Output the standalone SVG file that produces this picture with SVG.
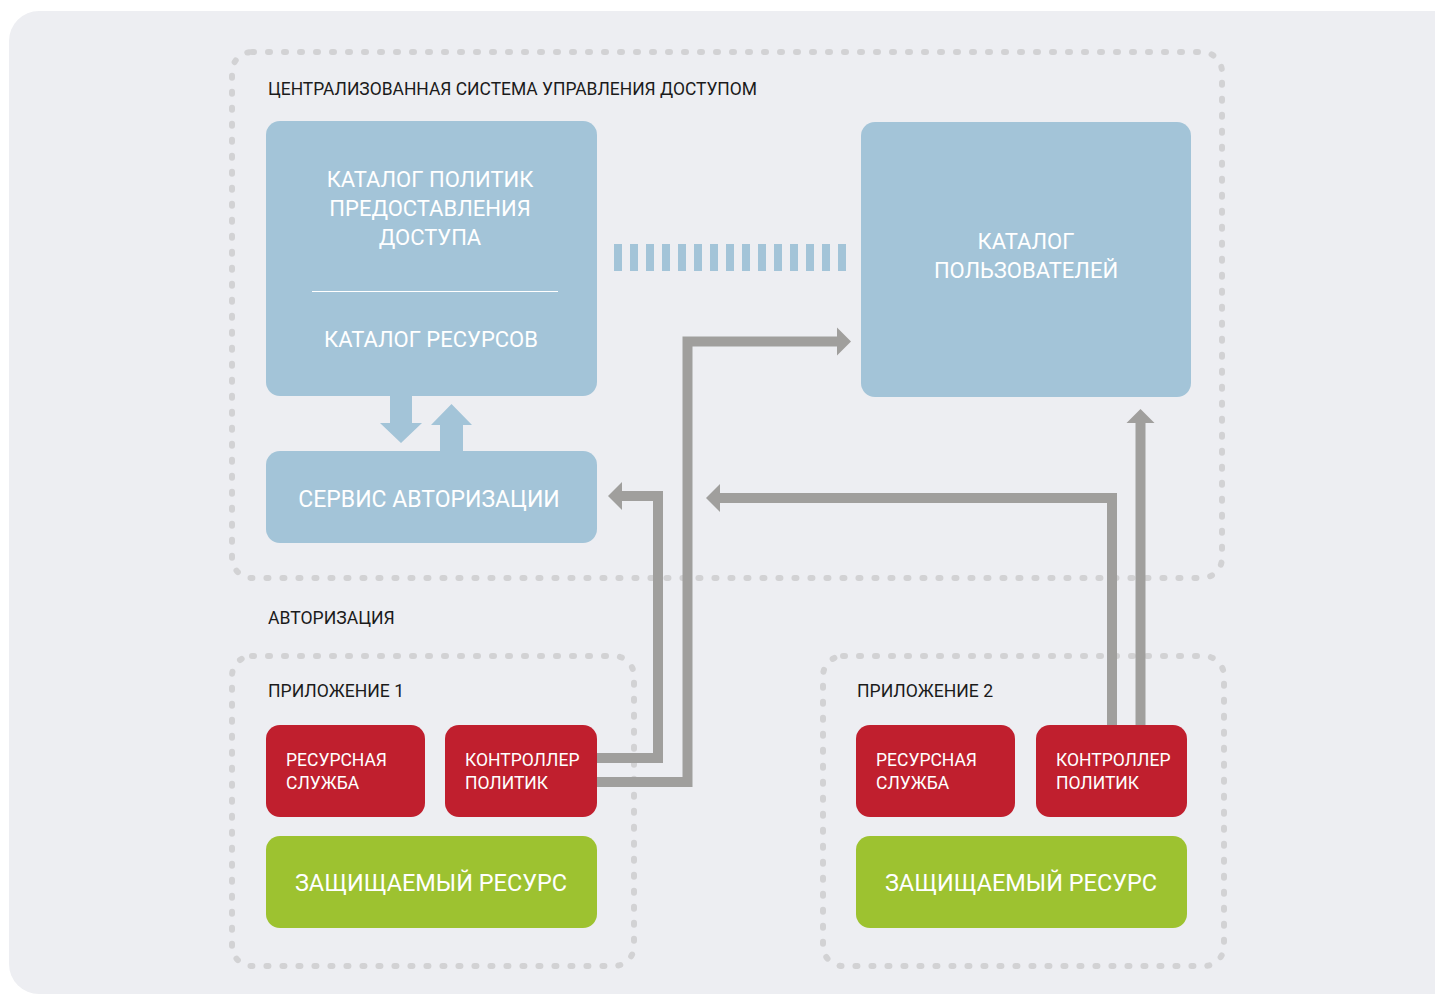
<svg xmlns="http://www.w3.org/2000/svg" width="1435" height="995" viewBox="0 0 1435 995">
<defs>
<style>
.cont{fill:none;stroke:#d2d2d4;stroke-width:6;stroke-linecap:round;stroke-dasharray:2 14}
.blue{fill:#a3c4d8}
.red{fill:#c01f2e}
.green{fill:#9dc230}
.lbl{font-family:Roboto,"Liberation Sans",sans-serif;font-size:17.6px;fill:#1b1b1b}
.wt{font-family:Roboto,"Liberation Sans",sans-serif;fill:#ffffff}
.big{font-size:22px;text-anchor:middle}
.sm{font-size:17.5px}
.conn{fill:none;stroke:#a09f9d;stroke-width:10}
.head{fill:#a09f9d}
</style>
</defs>
<rect x="0" y="0" width="1435" height="995" fill="#ffffff"/>
<rect x="9" y="11" width="1460" height="983" rx="30" fill="#edeef2"/>

<g id="central-system">
<rect class="cont" x="232" y="52" width="990" height="526" rx="20"/>
<text class="lbl" x="268" y="95" textLength="489" lengthAdjust="spacingAndGlyphs">ЦЕНТРАЛИЗОВАННАЯ СИСТЕМА УПРАВЛЕНИЯ ДОСТУПОМ</text>
</g>

<g id="policy-catalog">
<rect class="blue" x="266" y="121" width="331" height="275" rx="14"/>
<text class="wt big" x="430" y="187">КАТАЛОГ ПОЛИТИК</text>
<text class="wt big" x="430" y="216">ПРЕДОСТАВЛЕНИЯ</text>
<text class="wt big" x="430" y="245">ДОСТУПА</text>
<line x1="312" y1="291.5" x2="558" y2="291.5" stroke="#ffffff" stroke-width="1"/>
<text class="wt big" x="431" y="347">КАТАЛОГ РЕСУРСОВ</text>
</g>

<g id="user-catalog">
<rect class="blue" x="861" y="122" width="330" height="275" rx="14"/>
<text class="wt big" x="1026" y="249">КАТАЛОГ</text>
<text class="wt big" x="1026" y="278">ПОЛЬЗОВАТЕЛЕЙ</text>
</g>

<g id="auth-service">
<rect class="blue" x="266" y="451" width="331" height="92" rx="14"/>
<text class="wt big" x="429" y="507" style="font-size:23px">СЕРВИС АВТОРИЗАЦИИ</text>
</g>

<g id="authorization-label">
<text class="lbl" x="268" y="624">АВТОРИЗАЦИЯ</text>
</g>

<g id="app1">
<rect class="cont" x="232" y="656" width="402" height="310" rx="20"/>
<text class="lbl" x="268" y="697">ПРИЛОЖЕНИЕ 1</text>
</g>
<g id="app1-resource-service">
<rect class="red" x="266" y="725" width="159" height="92" rx="14"/>
<text class="wt sm" x="286" y="766">РЕСУРСНАЯ</text>
<text class="wt sm" x="286" y="789">СЛУЖБА</text>
</g>
<g id="app1-policy-controller">
<rect class="red" x="445" y="725" width="152" height="92" rx="14"/>
<text class="wt sm" x="465" y="766">КОНТРОЛЛЕР</text>
<text class="wt sm" x="465" y="789">ПОЛИТИК</text>
</g>
<g id="app1-protected-resource">
<rect class="green" x="266" y="836" width="331" height="92" rx="14"/>
<text class="wt big" x="431" y="891" style="font-size:23.5px">ЗАЩИЩАЕМЫЙ РЕСУРС</text>
</g>

<g id="app2">
<rect class="cont" x="823" y="656" width="401" height="310" rx="20"/>
<text class="lbl" x="857" y="697">ПРИЛОЖЕНИЕ 2</text>
</g>
<g id="app2-resource-service">
<rect class="red" x="856" y="725" width="159" height="92" rx="14"/>
<text class="wt sm" x="876" y="766">РЕСУРСНАЯ</text>
<text class="wt sm" x="876" y="789">СЛУЖБА</text>
</g>
<g id="app2-policy-controller">
<rect class="red" x="1036" y="725" width="151" height="92" rx="14"/>
<text class="wt sm" x="1056" y="766">КОНТРОЛЛЕР</text>
<text class="wt sm" x="1056" y="789">ПОЛИТИК</text>
</g>
<g id="app2-protected-resource">
<rect class="green" x="856" y="836" width="331" height="92" rx="14"/>
<text class="wt big" x="1021" y="891" style="font-size:23.5px">ЗАЩИЩАЕМЫЙ РЕСУРС</text>
</g>

<g id="connectors">
<line x1="614" y1="257.5" x2="846" y2="257.5" stroke="#a3c4d8" stroke-width="27" stroke-dasharray="8 8"/>
<polygon class="blue" points="390,396 412,396 412,423 422,423 401,443 380,423 390,423"/>
<polygon class="blue" points="440,451 463,451 463,425 472,425 451.5,404 431,425 440,425"/>
<polyline class="conn" points="597,758 658,758 658,496 620,496"/>
<polygon class="head" points="608,496 622,482 622,510"/>
<polyline class="conn" points="597,782 687.5,782 687.5,341.5 839,341.5"/>
<polygon class="head" points="851,341.5 837,327.5 837,355.5"/>
<polyline class="conn" points="1112,725 1112,498 718,498"/>
<polygon class="head" points="706,498 720,484 720,512"/>
<polyline class="conn" points="1140.5,725 1140.5,421"/>
<polygon class="head" points="1140.5,409 1154.5,423 1126.5,423"/>
</g>
</svg>
